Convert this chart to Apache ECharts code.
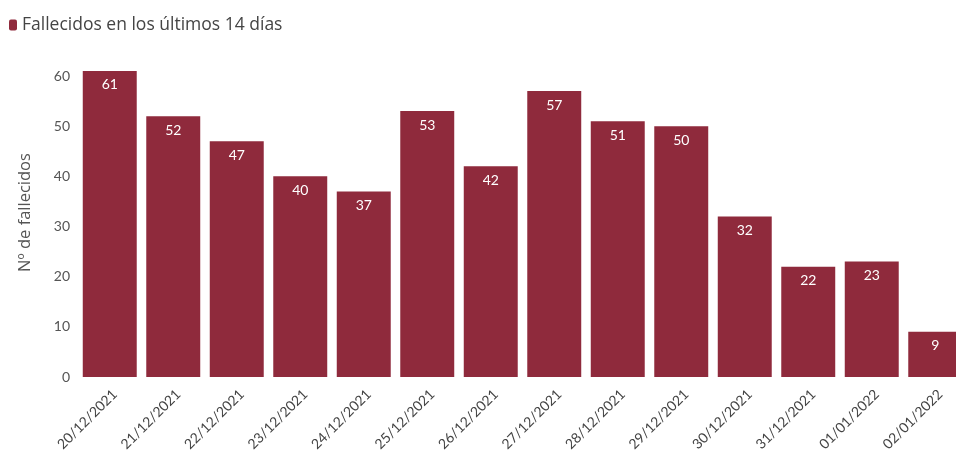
<!DOCTYPE html>
<html><head><meta charset="utf-8">
<script src="https://cdn.jsdelivr.net/npm/echarts@6/dist/echarts.min.js"></script>
<style>html,body{margin:0;padding:0;background:#fff;overflow:hidden;width:956px;height:457px}#c{width:967px;height:457px}</style>
</head><body><div id="c"></div>
<script>
const categories = ["20/12/2021","21/12/2021","22/12/2021","23/12/2021","24/12/2021","25/12/2021","26/12/2021","27/12/2021","28/12/2021","29/12/2021","30/12/2021","31/12/2021","01/01/2022","02/01/2022"];
const fallecidos = [61,52,47,40,37,53,42,57,51,50,32,22,23,9];
const seriesName = "Fallecidos en los últimos 14 días";
const yAxisName = "Nº de fallecidos";

const font = "Lato, sans-serif";
const wide = "'Open Sans', sans-serif";
const chart = echarts.init(document.getElementById('c'));
chart.setOption({
  animation: false,
  textStyle: {fontFamily: font},
  legend: {
    left: 4, top: 11, itemWidth: 8, itemHeight: 11, itemGap: 5,
    icon: 'roundRect',
    textStyle: {fontFamily: wide, fontSize: 17.5, color: '#444'},
    data: [seriesName]
  },
  grid: {left: 78, right: 0, top: 76, bottom: 80},
  xAxis: {
    type: 'category', data: categories,
    axisLine: {show: false}, axisTick: {show: false},
    axisLabel: {rotate: 45, fontSize: 14, color: '#444', fontFamily: font, margin: 10, verticalAlign: 'top'}
  },
  yAxis: {
    type: 'value', min: 0, max: 60, interval: 10,
    name: yAxisName, nameLocation: 'middle', nameGap: 44,
    nameTextStyle: {fontSize: 16.5, color: '#555', fontFamily: wide, padding: [0, 0, 0, 28]},
    splitLine: {show: false}, axisLine: {show: false}, axisTick: {show: false},
    axisLabel: {fontSize: 14, color: '#555', fontFamily: font, margin: 8}
  },
  series: [{
    name: seriesName, type: 'bar', data: fallecidos, clip: false,
    barCategoryGap: '15%',
    itemStyle: {color: '#8f2a3c'},
    label: {show: true, position: 'insideTop', distance: 7, color: '#fff', fontSize: 14, fontFamily: font}
  }]
});
</script></body></html>
